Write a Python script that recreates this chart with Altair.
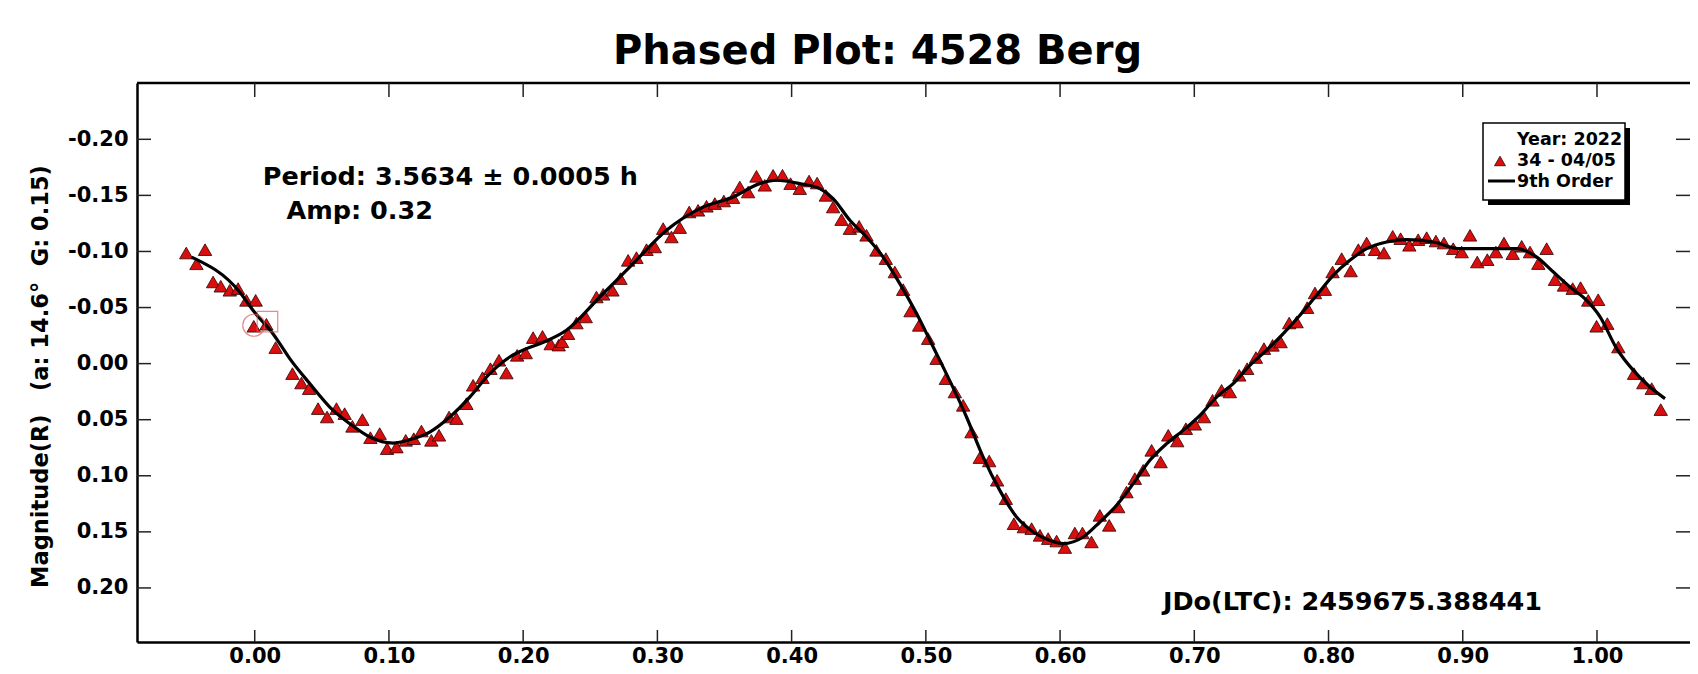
import altair as alt
import pandas as pd

# ---------------- data ----------------
phase = [
    -0.0510, -0.0434, -0.0370, -0.0310, -0.0253, -0.0186, -0.0124, -0.0062, 0.0007, -0.0007,
    0.0087, 0.0156, 0.0281, 0.0348, 0.0405, 0.0472, 0.0539, 0.0609, 0.0670, 0.0728,
    0.0802, 0.0862, 0.0931, 0.0986, 0.1056, 0.1125, 0.1185, 0.1242, 0.1316, 0.1373,
    0.1448, 0.1503, 0.1577, 0.1627, 0.1697, 0.1756, 0.1820, 0.1875, 0.1955, 0.2019,
    0.2074, 0.2144, 0.2205, 0.2265, 0.2290, 0.2335, 0.2397, 0.2466, 0.2546, 0.2596,
    0.2665, 0.2725, 0.2782, 0.2844, 0.2919, 0.2981, 0.3043, 0.3105, 0.3167, 0.3237,
    0.3303, 0.3366, 0.3428, 0.3495, 0.3564, 0.3614, 0.3676, 0.3738, 0.3800, 0.3862,
    0.3932, 0.3992, 0.4061, 0.4130, 0.4190, 0.4255, 0.4309, 0.4372, 0.4434, 0.4503,
    0.4558, 0.4632, 0.4702, 0.4769, 0.4831, 0.4886, 0.4950, 0.5017, 0.5080, 0.5149,
    0.5216, 0.5278, 0.5340, 0.5402, 0.5472, 0.5531, 0.5596, 0.5656, 0.5730, 0.5788,
    0.5850, 0.5911, 0.5974, 0.6036, 0.6110, 0.6167, 0.6234, 0.6296, 0.6366, 0.6433,
    0.6495, 0.6557, 0.6619, 0.6682, 0.6749, 0.6806, 0.6873, 0.6937, 0.7004, 0.7072,
    0.7136, 0.7203, 0.7265, 0.7335, 0.7394, 0.7459, 0.7519, 0.7583, 0.7643, 0.7707,
    0.7762, 0.7841, 0.7899, 0.7973, 0.8030, 0.8098, 0.8165, 0.8222, 0.8284, 0.8346,
    0.8413, 0.8478, 0.8537, 0.8602, 0.8668, 0.8731, 0.8800, 0.8860, 0.8929, 0.8992,
    0.9054, 0.9108, 0.9183, 0.9247, 0.9307, 0.9372, 0.9439, 0.9501, 0.9563, 0.9625,
    0.9687, 0.9754, 0.9819, 0.9878, 0.9935, 1.0009, 0.9997, 1.0077, 1.0159, 1.0276,
    1.0345, 1.0408, 1.0475,
]
mag = [
    -0.0986, -0.0890, -0.1016, -0.0728, -0.0690, -0.0654, -0.0669, -0.0564, -0.0564, -0.0333,
    -0.0351, -0.0143, 0.0089, 0.0173, 0.0223, 0.0401, 0.0476, 0.0401, 0.0446, 0.0559,
    0.0499, 0.0660, 0.0624, 0.0758, 0.0744, 0.0684, 0.0669, 0.0601, 0.0684, 0.0639,
    0.0476, 0.0490, 0.0357, 0.0193, 0.0125, 0.0045, -0.0030, 0.0084, -0.0074, -0.0095,
    -0.0232, -0.0243, -0.0175, -0.0165, -0.0195, -0.0267, -0.0362, -0.0416, -0.0594, -0.0618,
    -0.0654, -0.0758, -0.0921, -0.0945, -0.1016, -0.1040, -0.1204, -0.1129, -0.1213, -0.1352,
    -0.1367, -0.1403, -0.1427, -0.1450, -0.1480, -0.1575, -0.1530, -0.1670, -0.1590, -0.1679,
    -0.1679, -0.1605, -0.1560, -0.1628, -0.1610, -0.1500, -0.1396, -0.1284, -0.1204, -0.1224,
    -0.1144, -0.1010, -0.0936, -0.0817, -0.0660, -0.0469, -0.0341, -0.0223, -0.0045, 0.0134,
    0.0253, 0.0372, 0.0610, 0.0838, 0.0868, 0.1040, 0.1204, 0.1427, 0.1457, 0.1471,
    0.1531, 0.1560, 0.1582, 0.1640, 0.1510, 0.1510, 0.1590, 0.1353, 0.1442, 0.1278,
    0.1145, 0.1025, 0.0951, 0.0773, 0.0877, 0.0639, 0.0690, 0.0580, 0.0541, 0.0476,
    0.0327, 0.0238, 0.0253, 0.0104, 0.0045, -0.0054, -0.0134, -0.0163, -0.0193, -0.0362,
    -0.0371, -0.0499, -0.0630, -0.0660, -0.0817, -0.0936, -0.0826, -0.1016, -0.1075, -0.1016,
    -0.0986, -0.1135, -0.1114, -0.1055, -0.1105, -0.1123, -0.1093, -0.1075, -0.1025, -0.0995,
    -0.1144, -0.0906, -0.0927, -0.0995, -0.1075, -0.0981, -0.1046, -0.0995, -0.0892, -0.1025,
    -0.0749, -0.0698, -0.0669, -0.0678, -0.0564, -0.0570, -0.0333, -0.0357, -0.0148, 0.0089,
    0.0173, 0.0223, 0.0410,
]

# 9th order Fourier fit
fit_phase = [
    -0.0470, -0.0112, -0.0013, 0.0136, 0.0261, 0.0410, 0.0559, 0.0708, 0.0857, 0.1030,
    0.1180, 0.1304, 0.1453, 0.1602, 0.1751, 0.1900, 0.2025, 0.2150, 0.2322, 0.2571,
    0.2819, 0.3068, 0.3316, 0.3564, 0.3763, 0.3887, 0.4061, 0.4210, 0.4309, 0.4434,
    0.4558, 0.4682, 0.4806, 0.4931, 0.5030, 0.5303, 0.5427, 0.5551, 0.5676, 0.5800,
    0.5924, 0.6023, 0.6172, 0.6297, 0.6421, 0.6545, 0.6669, 0.6794, 0.6917, 0.7042,
    0.7166, 0.7290, 0.7414, 0.7538, 0.7663, 0.7787, 0.7911, 0.8035, 0.8159, 0.8284,
    0.8433, 0.8582, 0.8780, 0.8979, 0.9153, 0.9402, 0.9551, 0.9675, 0.9799, 0.9923,
    1.0022, 1.0147, 1.0271, 1.0395, 1.0507,
]
fit_mag = [
    -0.0950, -0.0638, -0.0475, -0.0267, -0.0045, 0.0178, 0.0387, 0.0535, 0.0654, 0.0708,
    0.0669, 0.0610, 0.0476, 0.0298, 0.0089, -0.0059, -0.0134, -0.0190, -0.0297, -0.0594,
    -0.0892, -0.1189, -0.1382, -0.1486, -0.1605, -0.1635, -0.1605, -0.1560, -0.1471, -0.1278,
    -0.1129, -0.0950, -0.0713, -0.0446, -0.0208, 0.0476, 0.0833, 0.1130, 0.1368, 0.1501,
    0.1576, 0.1605, 0.1546, 0.1412, 0.1263, 0.1070, 0.0862, 0.0713, 0.0595, 0.0461,
    0.0298, 0.0178, 0.0015, -0.0119, -0.0267, -0.0431, -0.0609, -0.0787, -0.0921, -0.1025,
    -0.1084, -0.1105, -0.1084, -0.1025, -0.1025, -0.1025, -0.0950, -0.0817, -0.0683, -0.0564,
    -0.0420, -0.0134, 0.0060, 0.0209, 0.0312,
]

# first / last observation markers
first_phase, first_mag = [-0.0007], [-0.0342]
last_phase, last_mag = [0.0095], [-0.0374]

x_ticks = [0.0, 0.1, 0.2, 0.3, 0.4, 0.5, 0.6, 0.7, 0.8, 0.9, 1.0]
y_ticks = [-0.20, -0.15, -0.10, -0.05, 0.0, 0.05, 0.10, 0.15, 0.20]
x_domain = [-0.0877, 1.0693]
y_domain = [-0.2502, 0.2482]

ann_text = ["Period: 3.5634 \u00b1 0.0005 h", "Amp: 0.32", "JDo(LTC): 2459675.388441"]
ann_phase = [0.0060, 0.0236, 0.6766]
ann_mag = [-0.1590, -0.1293, 0.2200]

legend_lines = ["Year: 2022", "34 - 04/05", "9th Order"]

# ---------------- styling ----------------
W, H = 1553, 559
FONT = "DejaVu Sans"
RED = "#d90f0f"

xs = alt.Scale(domain=x_domain, nice=False, zero=False)
ys = alt.Scale(domain=y_domain, nice=False, zero=False, reverse=True)

x_axis = alt.Axis(
    values=x_ticks, labelExpr="format(datum.value, '.2f')", title=None,
    grid=False, ticks=False, tickSize=0, domain=True, domainColor="black",
    domainWidth=2.5, labelFont=FONT, labelFontSize=21, labelFontWeight="bold",
    labelColor="black", labelPadding=20, labelBaseline="alphabetic",
    labelFlush=False, labelOverlap=False,
)
y_axis = alt.Axis(
    values=y_ticks,
    labelExpr="replace(format(datum.value, '.2f'), '\u2212', '-')",
    title="Magnitude(R)\u00a0\u00a0\u00a0(a:\u00a014.6\u00b0\u00a0\u00a0G:\u00a00.15)",
    titleFont=FONT, titleFontSize=22.5, titleFontWeight="bold", titleColor="black",
    titleAngle=270, titleAlign="center", titleBaseline="middle",
    titleX=-97, titleY=293,
    grid=False, ticks=False, tickSize=0, domain=True, domainColor="black",
    domainWidth=2.5, labelFont=FONT, labelFontSize=21, labelFontWeight="bold",
    labelColor="black", labelPadding=9, labelFlush=False, labelOverlap=False,
)


def X(field):
    return alt.X(field, type="quantitative", scale=xs, axis=x_axis)


def Y(field):
    return alt.Y(field, type="quantitative", scale=ys, axis=y_axis)


pts = pd.DataFrame({"phase": phase, "mag": mag})
fit = pd.DataFrame({"phase": fit_phase, "mag": fit_mag})
xt = pd.DataFrame({"v": x_ticks})
yt = pd.DataFrame({"v": y_ticks})
ann = pd.DataFrame({"phase": ann_phase, "mag": ann_mag, "label": ann_text})
first = pd.DataFrame({"phase": first_phase, "mag": first_mag})
last = pd.DataFrame({"phase": last_phase, "mag": last_mag})
one = alt.Data(values=[{"k": 0}])

points = alt.Chart(pts).mark_point(
    shape="triangle-up", filled=True, fill=RED, stroke="#300000",
    strokeWidth=0.8, size=180, opacity=1, fillOpacity=1,
).encode(x=X("phase"), y=Y("mag"))

fit_line = alt.Chart(fit).mark_line(
    color="black", strokeWidth=3.2, interpolate="monotone"
).encode(x=X("phase"), y=Y("mag"))

first_mark = alt.Chart(first).mark_point(
    shape="circle", filled=False, stroke="#e05a5a", strokeWidth=1.2, size=484
).encode(x=X("phase"), y=Y("mag"))
last_mark = alt.Chart(last).mark_point(
    shape="square", filled=False, stroke="#e05a5a", strokeWidth=1.2, size=420
).encode(x=X("phase"), y=Y("mag"))

tick_style = dict(color="#222222", strokeWidth=1.5)
left_ticks = alt.Chart(yt).mark_rule(**tick_style).encode(
    y=Y("v"), x=alt.value(0), x2=alt.value(14))
right_ticks = alt.Chart(yt).mark_rule(**tick_style).encode(
    y=Y("v"), x=alt.value(W - 14), x2=alt.value(W))
top_ticks = alt.Chart(xt).mark_rule(**tick_style).encode(
    x=X("v"), y=alt.value(0), y2=alt.value(14))
bottom_ticks = alt.Chart(xt).mark_rule(**tick_style).encode(
    x=X("v"), y=alt.value(H - 12), y2=alt.value(H))
top_line = alt.Chart(one).mark_rule(color="black", strokeWidth=2.5).encode(
    x=alt.value(0), x2=alt.value(W), y=alt.value(0))

annotations = alt.Chart(ann).mark_text(
    align="left", baseline="alphabetic", font=FONT, fontSize=25.5,
    fontWeight="bold", color="black",
).encode(x=X("phase"), y=Y("mag"), text="label:N")

# legend box (drawn in pixel space of the plot)
lg_shadow = alt.Chart(one).mark_rect(fill="black").encode(
    x=alt.value(1351), x2=alt.value(1493), y=alt.value(45), y2=alt.value(122))
lg_box = alt.Chart(one).mark_rect(fill="white", stroke="black", strokeWidth=1.5).encode(
    x=alt.value(1346), x2=alt.value(1488), y=alt.value(40), y2=alt.value(117))
lg_text_style = dict(align="left", baseline="alphabetic", font=FONT, fontSize=17.5,
                     fontWeight="bold", color="black")
lg_t1 = alt.Chart(one).mark_text(**lg_text_style).encode(
    x=alt.value(1380), y=alt.value(62), text=alt.value(legend_lines[0]))
lg_t2 = alt.Chart(one).mark_text(**lg_text_style).encode(
    x=alt.value(1380), y=alt.value(83), text=alt.value(legend_lines[1]))
lg_t3 = alt.Chart(one).mark_text(**lg_text_style).encode(
    x=alt.value(1380), y=alt.value(104), text=alt.value(legend_lines[2]))
lg_tri = alt.Chart(one).mark_point(
    shape="triangle-up", filled=True, fill=RED, stroke="#300000",
    strokeWidth=0.8, size=120, opacity=1).encode(x=alt.value(1363), y=alt.value(78))
lg_line = alt.Chart(one).mark_rule(color="black", strokeWidth=3).encode(
    x=alt.value(1351), x2=alt.value(1378), y=alt.value(98))

chart = alt.layer(
    top_line, left_ticks, right_ticks, top_ticks, bottom_ticks,
    points, fit_line, first_mark, last_mark, annotations,
    lg_shadow, lg_box, lg_t1, lg_t2, lg_t3, lg_tri, lg_line,
).properties(
    width=W, height=H,
    title=alt.TitleParams(
        "Phased Plot: 4528 Berg", font=FONT, fontSize=40, fontWeight="bold",
        color="black", anchor="middle", frame="group", baseline="alphabetic",
        offset=20, dy=42, dx=-36,
    ),
    autosize=alt.AutoSizeParams(type="none"),
    padding={"left": 129, "top": 75, "right": 0, "bottom": 24},
    background="white",
).configure_view(stroke=None)

chart.save("out.html", embed_options={"renderer": "svg", "actions": False})
